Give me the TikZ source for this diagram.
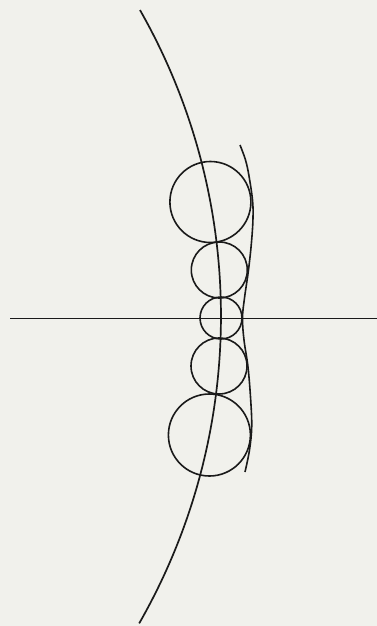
\documentclass[tikz,border=0pt]{standalone}
\usetikzlibrary{calc}
\definecolor{ink}{HTML}{1A1A1A}
\definecolor{paper}{HTML}{F1F1EC}
\tikzset{
  pen/.style={draw=ink,line width=1.7pt},
  penthin/.style={draw=ink,line width=1.6pt},
}

\begin{document}
\begin{tikzpicture}[x=1pt,y=-1pt]
  % ── the sheet ──
  \fill[paper] (0,0) rectangle (377,626);
  \useasboundingbox (0,0) rectangle (377,626);

  % ── the axis ──
  \coordinate (axl) at (10,318.5);
  \coordinate (axr) at (377,318.5);
  \draw[pen] (axl) -- (axr);

  % ── the large arc: centre far to the left, it runs through all the centres ──
  \coordinate (O) at (-397.5,316);
  \draw[pen] (O) ++(-29.65:618.5) arc[start angle=-29.65, end angle=29.8, radius=618.5];

  % ── the chain of circles, centre x / centre y / radius ──
  \foreach \cx/\cy/\r in {210.4/202/40.5,219.3/270/28,221/318/21,219/366/28,209.4/435/41}
    \draw[penthin] (\cx,\cy) circle[radius=\r];

  % ── the curve touching the chain on the right ──
  \draw[penthin] plot[smooth,tension=.6] coordinates {
    (240,145) (245.5,160) (249,176) (252.5,200) (253,218) (251.5,242)
    (248.5,270) (244.5,298) (242.5,318) (244,340) (248,367)
    (250.7,400) (251.7,427) (249.5,450) (245,472)};
\end{tikzpicture}
\end{document}
